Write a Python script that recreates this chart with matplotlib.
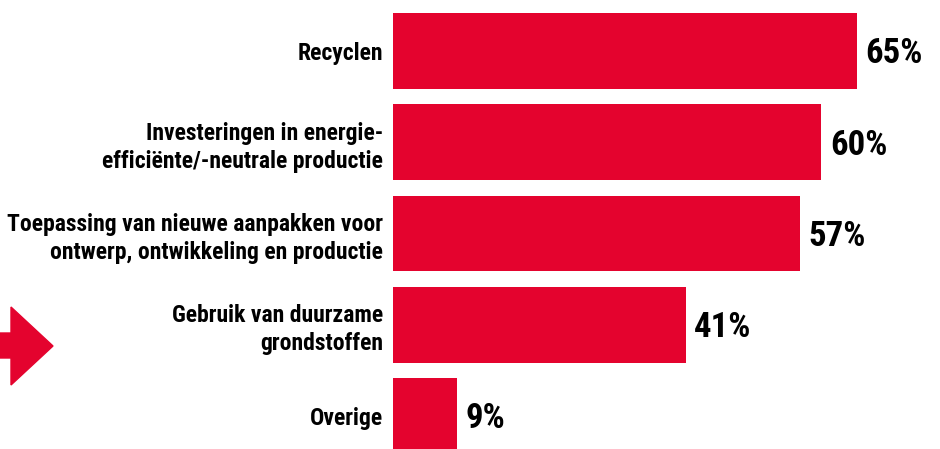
import matplotlib.pyplot as plt
from matplotlib.patches import Polygon

categories = [
    "Recyclen",
    "Investeringen in energie-\nefficiënte/-neutrale productie",
    "Toepassing van nieuwe aanpakken voor\nontwerp, ontwikkeling en productie",
    "Gebruik van duurzame\ngrondstoffen",
    "Overige",
]
values = [65, 60, 57, 41, 9]

red = "#E4032E"
font = ["Roboto Condensed", "Roboto", "DejaVu Sans"]

fig = plt.figure(figsize=(9.4, 4.49), dpi=100)
ax = fig.add_axes([393 / 940, 0, 1 - 393 / 940, 1])

pos = list(range(len(values)))
ax.barh(pos, values, height=0.83, color=red)
ax.set_xlim(0, (940 - 393) / 7.14)
ax.set_ylim(4.36, -0.56)

ax.set_yticks(pos)
ax.set_yticklabels(categories, fontsize=17, fontweight="bold", family=font,
                   linespacing=1.27, ha="right")
ax.tick_params(axis="y", length=0, pad=7)
ax.set_xticks([])
for s in ax.spines.values():
    s.set_visible(False)

for i, v in enumerate(values):
    ax.text(v + 1.2, i + 0.03, f"{v}%", va="center", ha="left",
            fontsize=25, fontweight="bold", family=font)

# arrow on the left
arrow = Polygon([(0, 333), (11, 333), (11, 307), (53, 346), (11, 385),
                 (11, 358), (0, 358)], closed=True, color=red,
                transform=fig.transFigure)
arrow.set_xy([(x / 940, 1 - y / 449) for x, y in arrow.get_xy()])
fig.patches.append(arrow)

fig.savefig("out.png", dpi=100)
